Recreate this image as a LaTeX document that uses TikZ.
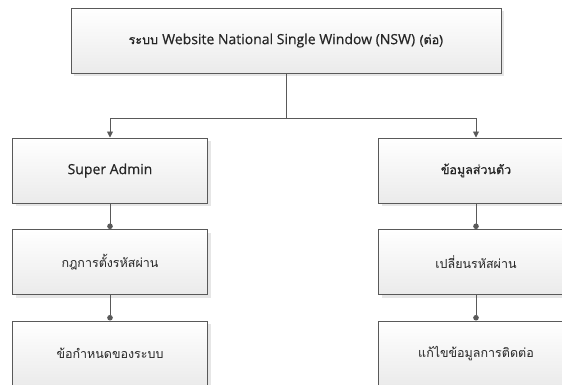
\documentclass[tikz,border=0pt]{standalone}
\usepackage{fontspec}
\setmainfont[Script=Thai]{Loma}
\newfontfamily\headfont[Script=Thai, FakeBold=0.7]{Loma}
\newfontfamily\latfont[Scale=1.12, FakeBold=0.5]{Open Sans}
\newcommand{\lat}[1]{{\latfont #1}}
\usetikzlibrary{positioning,arrows.meta,shadows}
\definecolor{edge}{HTML}{595959}
\definecolor{shade}{HTML}{E6E6E6}
\begin{document}
\begin{tikzpicture}[x=1pt, y=1pt, node distance={25.5pt},
  box/.style = {draw=edge, line width=1pt, top color=white, bottom color=black!8,
    minimum width=195pt, minimum height=65pt, font=\fontsize{12.5}{15}\selectfont,
    text=black!85, drop shadow={shadow xshift=3pt, shadow yshift=-3pt, fill=shade, opacity=1}},
  head/.style = {box, font=\fontsize{12.5}{15}\selectfont\headfont},
  arr/.style = {draw=edge, line width=0.9pt, -{Triangle[length=6pt, width=6pt]}},
  dotted line/.style = {draw=edge, line width=0.9pt, -{Circle[length=5.5pt]}}]
\useasboundingbox (0,0) rectangle (562,-384);
\clip (0,0) rectangle (562,-384);
\node[head, minimum width=430pt] (top) at (286,-40.5) {ระบบ \lat{Website National Single Window (NSW)} (ต่อ)};
\coordinate (j) at (286,-118);
\node[head] (sa) at (110,-170.5) {\lat{Super Admin}};
\node[box] (rule) [below=of sa] {กฎการตั้งรหัสผ่าน};
\node[box] (spec) [below=of rule] {ข้อกำหนดของระบบ};
\node[head] (info) at (476,-170.5) {ข้อมูลส่วนตัว};
\node[box] (pass) [below=of info] {เปลี่ยนรหัสผ่าน};
\node[box] (contact) [below=of pass] {แก้ไขข้อมูลการติดต่อ};
\draw[draw=edge, line width=0.9pt] (top) -- (j);
\draw[arr] (j) -| (sa);
\draw[arr] (j) -| (info);
\draw[dotted line] (sa) -- (rule);
\draw[dotted line] (rule) -- (spec);
\draw[dotted line] (info) -- (pass);
\draw[dotted line] (pass) -- (contact);
\end{tikzpicture}
\end{document}
